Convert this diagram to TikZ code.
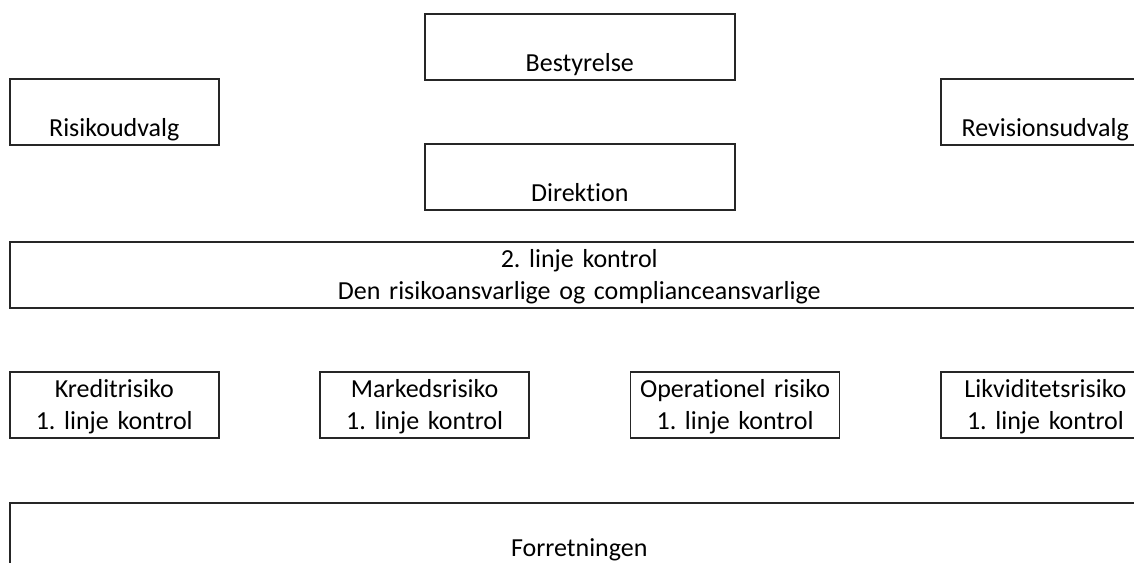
\documentclass[tikz,border=0pt]{standalone}
\usepackage{fontspec}
\setmainfont{Carlito}[Ligatures=NoCommon]
\usetikzlibrary{calc}
\frenchspacing

\tikzset{
  kasse/.style={draw=black!85, line width=1.5pt, anchor=north west, inner sep=0pt, align=center, text width=209pt},
  enlinje/.style={text height=58pt, text depth=8pt},
  tolinje/.style={text height=26pt, text depth=40pt}
}

\begin{document}
\begin{tikzpicture}[x=1pt, y=-1pt, font=\fontsize{26}{32}\selectfont]
  \clip (0,0) rectangle (1134,562);
  \node[kasse, enlinje, text width=310pt] (bestyrelse) at (424,13) {Bestyrelse};
  \node[kasse, enlinje] (risikoudvalg) at (9,78) {Risikoudvalg};
  \node[kasse, enlinje] (revisionsudvalg) at (940,78) {Revisionsudvalg};
  \node[kasse, enlinje, text width=310pt] (direktion) at (424,143) {Direktion};
  \node[kasse, tolinje, text width=1139pt] (linje2) at (9,241) {2. linje kontrol\\Den risikoansvarlige og complianceansvarlige};
  \foreach \navn/\risiko/\kol in {kredit/Kreditrisiko/0, marked/Markedsrisiko/1, operationel/Operationel risiko/2, likviditet/Likviditetsrisiko/3} {
    \node[kasse, tolinje] (\navn) at ({9+310.4*\kol},371) {\risiko\\1. linje kontrol};
  }
  \node[kasse, text width=1139pt, text height=54pt, text depth=40pt] (forretningen) at (9,502) {Forretningen};
\end{tikzpicture}
\end{document}
